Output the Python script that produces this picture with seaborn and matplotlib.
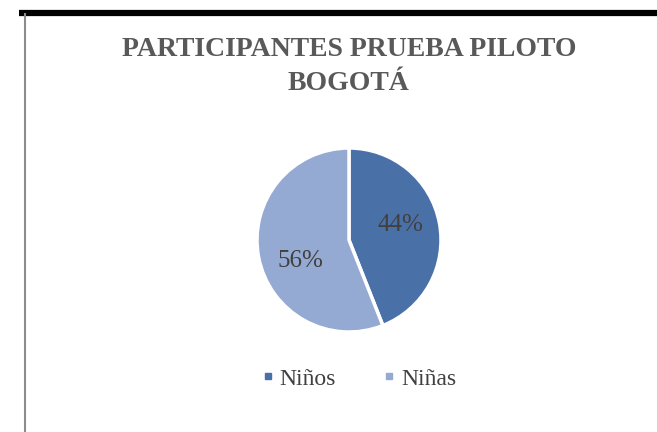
import matplotlib
matplotlib.use("Agg")
import matplotlib.pyplot as plt
import seaborn as sns
from matplotlib.lines import Line2D

sns.set_theme(style="white")
plt.rcParams['font.family'] = ['Liberation Serif', 'DejaVu Serif']

categories = ["Niños", "Niñas"]
values = [44, 56]
colors = ["#4A70A8", "#95AAD2"]
title_lines = ["PARTICIPANTES PRUEBA PILOTO", "BOGOTÁ"]
label_pos = [(0.56, 0.165), (-0.525, -0.228)]  # label anchors inside slices (pie units)

fig = plt.figure(figsize=(6.57, 4.32), dpi=100)
fig.patch.set_facecolor("white")

# frame lines
fig.add_artist(Line2D([19/657, 1], [1 - 13/432, 1 - 13/432], color="black", lw=4.5,
                      solid_capstyle="butt"))
fig.add_artist(Line2D([24.5/657, 24.5/657], [0, 1 - 13/432], color="#8c8c8c", lw=1.5,
                      solid_capstyle="butt"))

for y, line in zip([50, 83], title_lines):
    fig.text(349/657, 1 - y/432, line, ha="center", va="center",
             fontsize=20, fontweight="bold", color="#595959")

r = 92
ax = fig.add_axes([(349 - r)/657, 1 - (240 + r)/432, 2*r/657, 2*r/432])
wedges, texts, autotexts = ax.pie(values, colors=colors, startangle=90, counterclock=False,
       autopct="%1.0f%%", pctdistance=0.6,
       wedgeprops=dict(edgecolor="white", linewidth=2.5),
       textprops=dict(fontsize=18, color="#404040"))
for t, p in zip(autotexts, label_pos):
    t.set_position(p)
    t.set_ha("center")
    t.set_va("center")
ax.set_aspect("equal")
ax.set_xlim(-1, 1)
ax.set_ylim(-1, 1)

handles = [Line2D([], [], marker="s", linestyle="none", markersize=5,
                  markerfacecolor=c, markeredgecolor=c) for c in colors]
fig.legend(handles, categories, loc="center", bbox_to_anchor=(359/657, 1 - 379/432),
           ncol=2, frameon=False, fontsize=17, handletextpad=0.25, handlelength=0.5,
           columnspacing=2.0, labelcolor="#404040")

fig.savefig("out.png", dpi=100, facecolor="white")
